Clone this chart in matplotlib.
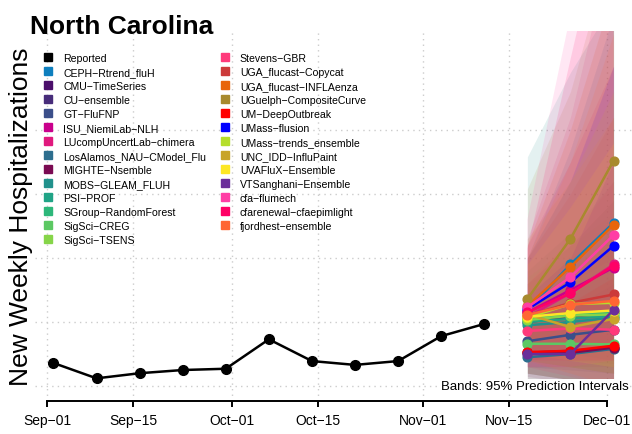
import matplotlib
matplotlib.use("Agg")
import matplotlib.pyplot as plt
import matplotlib.dates as mdates
from matplotlib.lines import Line2D
from datetime import date, timedelta

plt.rcParams['font.family'] = ['Liberation Sans', 'DejaVu Sans']

# reported weekly hospitalizations
obs_dates = [date(2023, 9, 2) + timedelta(weeks=i) for i in range(11)]
obs_vals = [136, 112, 120, 125, 127, 173, 139, 133, 139, 178, 197]

# forecast horizons
fc_dates = [date(2023, 11, 18), date(2023, 11, 25), date(2023, 12, 2)]

models = [
    "CEPH-Rtrend_fluH", "CMU-TimeSeries", "CU-ensemble", "GT-FluFNP",
    "ISU_NiemiLab-NLH", "LUcompUncertLab-chimera", "LosAlamos_NAU-CModel_Flu",
    "MIGHTE-Nsemble", "MOBS-GLEAM_FLUH", "PSI-PROF", "SGroup-RandomForest",
    "SigSci-CREG", "SigSci-TSENS", "Stevens-GBR", "UGA_flucast-Copycat",
    "UGA_flucast-INFLAenza", "UGuelph-CompositeCurve", "UM-DeepOutbreak",
    "UMass-flusion", "UMass-trends_ensemble", "UNC_IDD-InfluPaint",
    "UVAFluX-Ensemble", "VTSanghani-Ensemble", "cfa-flumech",
    "cfarenewal-cfaepimlight", "fjordhest-ensemble",
]
colors = [
    "#0E7FBE", "#4B0F6B", "#472C7A", "#3B4F8A", "#C9008C", "#E0197E",
    "#2D6E8E", "#7A0A52", "#21918C", "#20A386", "#2DB77A", "#5CC863",
    "#86D549", "#FF3A7B", "#CC3A3A", "#E8650A", "#A88A2E", "#FF0000",
    "#0000FF", "#B5DE2B", "#C8A42A", "#FDE725", "#6A2E9A", "#FF3EA5",
    "#FF0066", "#FF6633",
]
median = [
    [218, 290, 355], [152, 155, 160], [200, 208, 215], [170, 180, 188],
    [215, 250, 285], [208, 245, 290], [145, 150, 158], [153, 152, 160],
    [195, 200, 207], [200, 205, 210], [205, 212, 215], [166, 166, 165],
    [203, 210, 212], [186, 190, 188], [210, 230, 243], [225, 286, 352],
    [236, 330, 452], [153, 155, 163], [220, 262, 319], [207, 228, 230],
    [212, 192, 205], [208, 214, 218], [150, 150, 219], [223, 270, 336],
    [215, 245, 288], [211, 227, 233],
]
lower = [
    [150, 170, 190], [120, 110, 105], [150, 140, 135], [130, 125, 120],
    [140, 150, 160], [130, 130, 130], [110, 105, 100], [115, 105, 100],
    [120, 110, 100], [140, 130, 120], [160, 150, 140], [120, 110, 100],
    [150, 140, 130], [130, 115, 100], [140, 130, 120], [150, 160, 170],
    [160, 200, 240], [120, 110, 105], [150, 160, 170], [140, 130, 120],
    [110, 100, 100], [150, 140, 130], [105, 100, 100], [130, 130, 140],
    [140, 140, 140], [140, 120, 100],
]
upper = [
    [300, 470, 680], [190, 220, 260], [260, 320, 390], [220, 270, 330],
    [320, 450, 600], [330, 520, 800], [200, 240, 290], [210, 260, 320],
    [458, 590, 700], [280, 340, 420], [260, 300, 350], [230, 260, 300],
    [270, 320, 370], [260, 330, 420], [300, 400, 520], [320, 500, 720],
    [408, 560, 800], [200, 230, 270], [300, 420, 600], [300, 420, 560],
    [330, 420, 520], [290, 380, 480], [240, 300, 450], [360, 680, 1100],
    [314, 610, 900], [300, 450, 650],
]

tick_dates = [date(2023, 9, 1), date(2023, 9, 15), date(2023, 10, 1),
              date(2023, 10, 15), date(2023, 11, 1), date(2023, 11, 15),
              date(2023, 12, 1)]
tick_labels = ["Sep\u221201", "Sep\u221215", "Oct\u221201", "Oct\u221215",
               "Nov\u221201", "Nov\u221215", "Dec\u221201"]
grid_vals = [100, 200, 300, 400, 500]

fig = plt.figure(figsize=(6.32, 4.35), dpi=100)
ax = fig.add_axes([35 / 632, 33 / 435, 597 / 632, 370 / 435])

# grid
for g in grid_vals:
    ax.axhline(g, color="#cccccc", lw=1, ls=(0, (1, 3)), zorder=0)
for t in tick_dates:
    ax.axvline(t, color="#cccccc", lw=1, ls=(0, (1, 3)), zorder=0)

# prediction bands
for c, lo, hi in zip(colors, lower, upper):
    ax.fill_between(fc_dates, lo, hi, color=c, alpha=0.12, lw=0, zorder=1)

# forecast medians
for c, m in zip(colors, median):
    ax.plot(fc_dates, m, color=c, lw=1.8, marker="o", ms=6.3, zorder=3)

ax.plot(obs_dates, obs_vals, color="black", lw=1.8, marker="o", ms=7, zorder=4)

ax.set_xlim(date(2023, 9, 1) - timedelta(days=2.64),
            date(2023, 9, 1) + timedelta(days=95.64))
ax.set_ylim(76.6, 654.7)

ax.set_xticks(tick_dates)
ax.set_xticklabels(tick_labels, fontsize=10)
ax.set_yticks([])
ax.tick_params(axis="x", length=4.5, width=1.4, pad=4, direction="out")
for s in ["left", "top", "right"]:
    ax.spines[s].set_visible(False)
ax.spines["bottom"].set_linewidth(1.4)
ax.spines["bottom"].set_bounds(mdates.date2num(tick_dates[0]),
                               mdates.date2num(tick_dates[-1]))

ax.text(0.995, 0.04, "Bands: 95% Prediction Intervals", transform=ax.transAxes,
        ha="right", va="center", fontsize=9.5, zorder=5,
        bbox=dict(facecolor="white", edgecolor="none", pad=1))

fig.text(30 / 632, 1 - 34 / 435, "North Carolina", fontsize=19,
         fontweight="bold", ha="left", va="baseline")
fig.text(21 / 632, 1 - 217 / 435, "New Weekly Hospitalizations", fontsize=19,
         rotation=90, ha="center", va="center")

handles = [Line2D([], [], ls="none", marker="s", ms=5.5, color="black")]
handles += [Line2D([], [], ls="none", marker="s", ms=5.5, color=c) for c in colors]
labels = ["Reported"] + [m.replace("-", "\u2212") for m in models]
fig.legend(handles, labels, loc="upper left", bbox_to_anchor=(44 / 632, 1 - 54 / 435),
           ncol=2, frameon=False, fontsize=7.6, handlelength=0.8,
           handletextpad=1.0, columnspacing=1.4, labelspacing=0.38,
           borderpad=0, borderaxespad=0)

fig.savefig("out.png", dpi=100)
